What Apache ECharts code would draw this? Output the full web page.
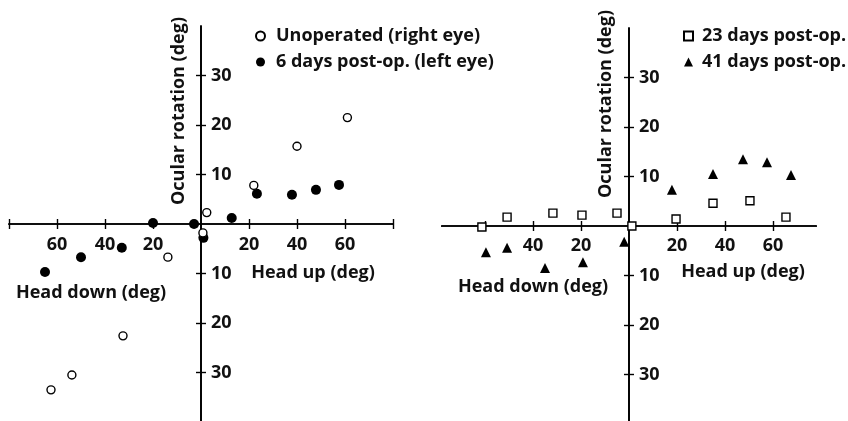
<!DOCTYPE html>
<html>
<head>
<meta charset="utf-8">
<style>
  html, body { margin: 0; padding: 0; background: #fff; }
  #chart { width: 848px; height: 421px; }
</style>
<script src="https://cdn.jsdelivr.net/npm/echarts@6/dist/echarts.min.js"></script>
</head>
<body>
<div id="chart"></div>
<script>
// Head position (deg, + = head up, - = head down) vs ocular rotation (deg)
var unoperatedRight = [
  [22, 7.8], [40, 15.7], [61, 21.5], [2.4, 2.3], [0.8, -1.8],
  [-13.8, -6.7], [-32.5, -22.6], [-53.8, -30.5], [-62.5, -33.5]
];
var postOp6Left = [
  [23.3, 6.1], [37.9, 5.9], [47.9, 6.9], [57.5, 7.9], [12.8, 1.2],
  [1, -2.8], [-2.9, 0], [-20, 0.2], [-33, -4.8], [-50, -6.7], [-65, -9.7]
];
var postOp23 = [
  [-61.3, -0.2], [-50.8, 1.8], [-31.7, 2.6], [-19.6, 2.2], [-5, 2.6],
  [1.2, 0], [19.6, 1.4], [35, 4.6], [50.4, 5.1], [65.4, 1.8]
];
var postOp41 = [
  [-59.6, -5.3], [-50.8, -4.4], [-35, -8.5], [-19.2, -7.3], [-2, -3.2],
  [17.9, 7.3], [35, 10.5], [47.5, 13.5], [57.5, 12.9], [67.5, 10.3]
];

var seriesNames = [
  'Unoperated (right eye)', '6 days post-op. (left eye)',
  '23 days post-op.', '41 days post-op.'
];

// tick positions and labelled ticks per panel
var leftXTicks = [-80, -60, -40, -20, 20, 40, 60, 80];
var leftXLabels = [-60, -40, -20, 20, 40, 60];
var rightXTicks = [-60, -40, -20, 20, 40, 60];
var rightXLabels = [-40, -20, 20, 40, 60];
var yTicks = [-30, -20, -10, 10, 20, 30];
var yLabels = [-30, -20, -10, 10, 20, 30];

var FONT = 'Open Sans';
var INK = '#111';
var lineStyle = { color: '#000', width: 1.7 };
var tickStyle = { color: '#000', width: 1.4 };
var labelFont = { fontFamily: FONT, fontWeight: 'bold', fontSize: 18, color: INK };
var absFmt = function (v) { return Math.abs(v); };
var YMIN = -40, YMAX = 40;

var panels = [
  { left: 9, top: 26, width: 384, height: 396, xmin: -80, xmax: 80,
    xTicks: leftXTicks, xLabels: leftXLabels, xMargin: 12 },
  { left: 441.8, top: 28, width: 374.4, height: 396, xmin: -78, xmax: 78,
    xTicks: rightXTicks, xLabels: rightXLabels, xMargin: 11 }
];

var grids = [], xAxis = [], yAxis = [], dataAxis = [];
function hidden(gi, min, max) {
  return { gridIndex: gi, type: 'value', min: min, max: max, show: false };
}
function addGrid(rect, xa, ya) {
  var gi = grids.length;
  grids.push(Object.assign({ outerBoundsMode: 'none', containLabel: false }, rect));
  xAxis.push(Object.assign({ gridIndex: gi }, xa));
  yAxis.push(Object.assign({ gridIndex: gi }, ya));
  return gi;
}

panels.forEach(function (p) {
  var zeroX = p.left + p.width * (0 - p.xmin) / (p.xmax - p.xmin);
  var zeroY = p.top + p.height * YMAX / (YMAX - YMIN);
  var xBase = {
    type: 'value', min: p.xmin, max: p.xmax, splitLine: { show: false },
    axisLine: { onZero: false, lineStyle: lineStyle },
    axisTick: { show: true, length: 5, lineStyle: tickStyle, customValues: p.xTicks }
  };
  var yBase = {
    type: 'value', min: YMIN, max: YMAX, splitLine: { show: false },
    axisLine: { onZero: false, lineStyle: lineStyle },
    axisTick: { show: true, length: 5, lineStyle: tickStyle, customValues: yTicks }
  };

  // plotting area for the marks
  var gData = addGrid({ left: p.left, top: p.top, width: p.width, height: p.height },
    { type: 'value', min: p.xmin, max: p.xmax, show: false },
    { type: 'value', min: YMIN, max: YMAX, show: false });
  dataAxis.push(gData);

  // horizontal axis: lower half of ticks + labels
  addGrid({ left: p.left, top: p.top, width: p.width, height: zeroY - p.top },
    Object.assign({}, xBase, { position: 'bottom',
      axisLabel: Object.assign({ customValues: p.xLabels, margin: p.xMargin, formatter: absFmt }, labelFont) }),
    { type: 'value', min: 0, max: YMAX, show: false });
  // horizontal axis: upper half of ticks
  addGrid({ left: p.left, top: zeroY, width: p.width, height: p.top + p.height - zeroY },
    Object.assign({}, xBase, { position: 'top', axisLabel: { show: false } }),
    { type: 'value', min: YMIN, max: 0, show: false });
  // vertical axis: right half of ticks + labels
  addGrid({ left: p.left, top: p.top, width: zeroX - p.left, height: p.height },
    { type: 'value', min: p.xmin, max: 0, show: false },
    Object.assign({}, yBase, { position: 'right',
      axisLabel: Object.assign({ customValues: yLabels, margin: 10, formatter: absFmt }, labelFont) }));
  // vertical axis: left half of ticks
  addGrid({ left: zeroX, top: p.top, width: p.left + p.width - zeroX, height: p.height },
    { type: 'value', min: 0, max: p.xmax, show: false },
    Object.assign({}, yBase, { position: 'left', axisLabel: { show: false } }));
});

var openStyle = { color: '#fff', borderColor: '#000', borderWidth: 1.4, opacity: 1 };
var fillStyle = { color: '#000', opacity: 1 };
var nameFont = 'bold 18px "Open Sans"';

function nameText(text, x, y, vertical) {
  return { type: 'text', x: x, y: y, rotation: vertical ? Math.PI / 2 : 0,
    style: { text: text, font: nameFont, fill: INK, textAlign: 'center', textVerticalAlign: 'middle' } };
}

var chart = echarts.init(document.getElementById('chart'), null, { renderer: 'canvas' });
chart.setOption({
  animation: false,
  backgroundColor: '#fff',
  grid: grids,
  xAxis: xAxis,
  yAxis: yAxis,
  legend: [
    {
      left: 255, top: 26, orient: 'vertical', padding: 0, itemGap: 6,
      itemWidth: 9, itemHeight: 9, selectedMode: false,
      textStyle: Object.assign({ lineHeight: 20, padding: [0, 0, 0, 6] }, labelFont),
      data: [
        { name: seriesNames[0], icon: 'circle' },
        { name: seriesNames[1], icon: 'circle' }
      ]
    },
    {
      left: 683, top: 26, orient: 'vertical', padding: 0, itemGap: 6,
      itemWidth: 9, itemHeight: 9, selectedMode: false,
      textStyle: Object.assign({ lineHeight: 20, padding: [0, 0, 0, 4] }, labelFont),
      data: [
        { name: seriesNames[2], icon: 'rect' },
        { name: seriesNames[3], icon: 'triangle' }
      ]
    }
  ],
  series: [
    { name: seriesNames[0], type: 'scatter', xAxisIndex: dataAxis[0], yAxisIndex: dataAxis[0],
      symbol: 'circle', symbolSize: 8, itemStyle: openStyle, data: unoperatedRight, z: 3 },
    { name: seriesNames[1], type: 'scatter', xAxisIndex: dataAxis[0], yAxisIndex: dataAxis[0],
      symbol: 'circle', symbolSize: 10, itemStyle: fillStyle, data: postOp6Left, z: 2 },
    { name: seriesNames[2], type: 'scatter', xAxisIndex: dataAxis[1], yAxisIndex: dataAxis[1],
      symbol: 'rect', symbolSize: 8, itemStyle: openStyle, data: postOp23, z: 3 },
    { name: seriesNames[3], type: 'scatter', xAxisIndex: dataAxis[1], yAxisIndex: dataAxis[1],
      symbol: 'triangle', symbolSize: 10, itemStyle: fillStyle, data: postOp41, z: 2 }
  ],
  graphic: [
    nameText('Ocular rotation (deg)', 179, 111, true),
    nameText('Ocular rotation (deg)', 606, 104, true),
    nameText('Head up (deg)', 313, 273),
    nameText('Head down (deg)', 91, 293),
    nameText('Head up (deg)', 743, 272),
    nameText('Head down (deg)', 533, 287)
  ]
});
</script>
</body>
</html>
